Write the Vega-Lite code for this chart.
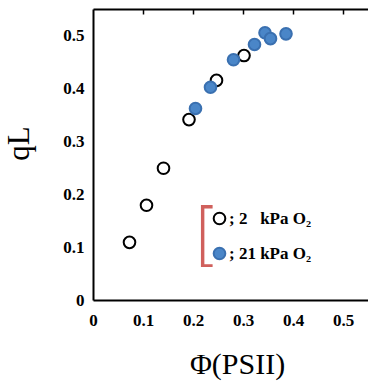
{
  "$schema": "https://vega.github.io/schema/vega-lite/v6.json",
  "width": 275,
  "height": 291,
  "autosize": "none",
  "padding": {"left": 93, "top": 9, "right": 0, "bottom": 87},
  "background": "white",
  "config": {"view": {"stroke": null}, "font": "Liberation Serif"},
  "data": {
    "values": [
      {"phiPSII": 0.073, "qL": 0.109, "series": "2 kPa O₂"},
      {"phiPSII": 0.107, "qL": 0.179, "series": "2 kPa O₂"},
      {"phiPSII": 0.141, "qL": 0.249, "series": "2 kPa O₂"},
      {"phiPSII": 0.192, "qL": 0.341, "series": "2 kPa O₂"},
      {"phiPSII": 0.247, "qL": 0.415, "series": "2 kPa O₂"},
      {"phiPSII": 0.302, "qL": 0.462, "series": "2 kPa O₂"},
      {"phiPSII": 0.205, "qL": 0.362, "series": "21 kPa O₂"},
      {"phiPSII": 0.235, "qL": 0.402, "series": "21 kPa O₂"},
      {"phiPSII": 0.281, "qL": 0.454, "series": "21 kPa O₂"},
      {"phiPSII": 0.323, "qL": 0.483, "series": "21 kPa O₂"},
      {"phiPSII": 0.344, "qL": 0.505, "series": "21 kPa O₂"},
      {"phiPSII": 0.355, "qL": 0.494, "series": "21 kPa O₂"},
      {"phiPSII": 0.386, "qL": 0.503, "series": "21 kPa O₂"}
    ]
  },
  "layer": [
    {
      "mark": {"type": "point", "filled": true, "size": 135, "strokeWidth": 2, "opacity": 1},
      "encoding": {
        "x": {
          "field": "phiPSII", "type": "quantitative",
          "scale": {"domain": [0, 0.55], "nice": false, "zero": true},
          "axis": {
            "orient": "bottom", "values": [0, 0.1, 0.2, 0.3, 0.4, 0.5], "format": ".1~f",
            "grid": false, "domainColor": "black", "domainWidth": 2, "ticks": false,
            "labelFont": "Liberation Serif", "labelFontWeight": "bold", "labelFontSize": 17, "labelColor": "black",
            "labelPadding": 12, "labelFlush": false,
            "title": "Φ(PSII)", "titleFont": "Liberation Serif", "titleFontWeight": "normal", "titleFontSize": 30,
            "titleColor": "black", "titlePadding": 21, "titleX": 144
          }
        },
        "y": {
          "field": "qL", "type": "quantitative",
          "scale": {"domain": [0, 0.55], "nice": false, "zero": true},
          "axis": {
            "orient": "left", "values": [0, 0.1, 0.2, 0.3, 0.4, 0.5], "format": ".1~f",
            "grid": false, "domainColor": "black", "domainWidth": 2, "ticks": false,
            "labelFont": "Liberation Serif", "labelFontWeight": "bold", "labelFontSize": 17, "labelColor": "black",
            "labelPadding": 9, "labelFlush": false,
            "title": "qL", "titleFont": "Liberation Serif", "titleFontWeight": "normal", "titleFontSize": 31,
            "titleColor": "black", "titlePadding": 27, "titleY": 134
          }
        },
        "fill": {
          "field": "series", "type": "nominal",
          "scale": {"domain": ["2 kPa O₂", "21 kPa O₂"], "range": ["white", "#4a86c8"]},
          "legend": {
            "orient": "none", "legendX": 100, "legendY": 201,
            "title": "[", "titleOrient": "left", "titleColor": "#d0605c", "titleFontSize": 70,
            "titleFontWeight": 200, "titleFont": "DejaVu Sans", "titlePadding": -10,
            "labelFont": "Liberation Serif", "labelFontWeight": "bold", "labelFontSize": 17, "labelColor": "black",
            "labelExpr": "datum.label == '2 kPa O₂' ? '; 2\u00a0\u00a0\u00a0kPa O₂' : '; 21 kPa O₂'",
            "symbolSize": 135, "symbolStrokeWidth": 2, "rowPadding": 14, "labelOffset": 1
          }
        },
        "stroke": {
          "field": "series", "type": "nominal",
          "scale": {"domain": ["2 kPa O₂", "21 kPa O₂"], "range": ["black", "#3a70b0"]},
          "legend": {
            "orient": "none", "legendX": 100, "legendY": 201,
            "title": "[", "titleOrient": "left", "titleColor": "#d0605c", "titleFontSize": 70,
            "titleFontWeight": 200, "titleFont": "DejaVu Sans", "titlePadding": -10,
            "labelFont": "Liberation Serif", "labelFontWeight": "bold", "labelFontSize": 17, "labelColor": "black",
            "labelExpr": "datum.label == '2 kPa O₂' ? '; 2\u00a0\u00a0\u00a0kPa O₂' : '; 21 kPa O₂'",
            "symbolSize": 135, "symbolStrokeWidth": 2, "rowPadding": 14, "labelOffset": 1
          }
        }
      }
    },
    {
      "mark": {"type": "point", "opacity": 0},
      "encoding": {
        "x": {
          "field": "phiPSII", "type": "quantitative",
          "scale": {"domain": [0, 0.55], "nice": false, "zero": true},
          "axis": {
            "orient": "bottom", "offset": -291, "values": [0.1, 0.2, 0.3, 0.4, 0.5], "labels": false, "title": null,
            "grid": false, "domainColor": "black", "domainWidth": 2, "ticks": true,
            "tickColor": "black", "tickSize": 5, "tickWidth": 1.5
          }
        }
      }
    }
  ],
  "resolve": {"axis": {"x": "independent"}}
}
